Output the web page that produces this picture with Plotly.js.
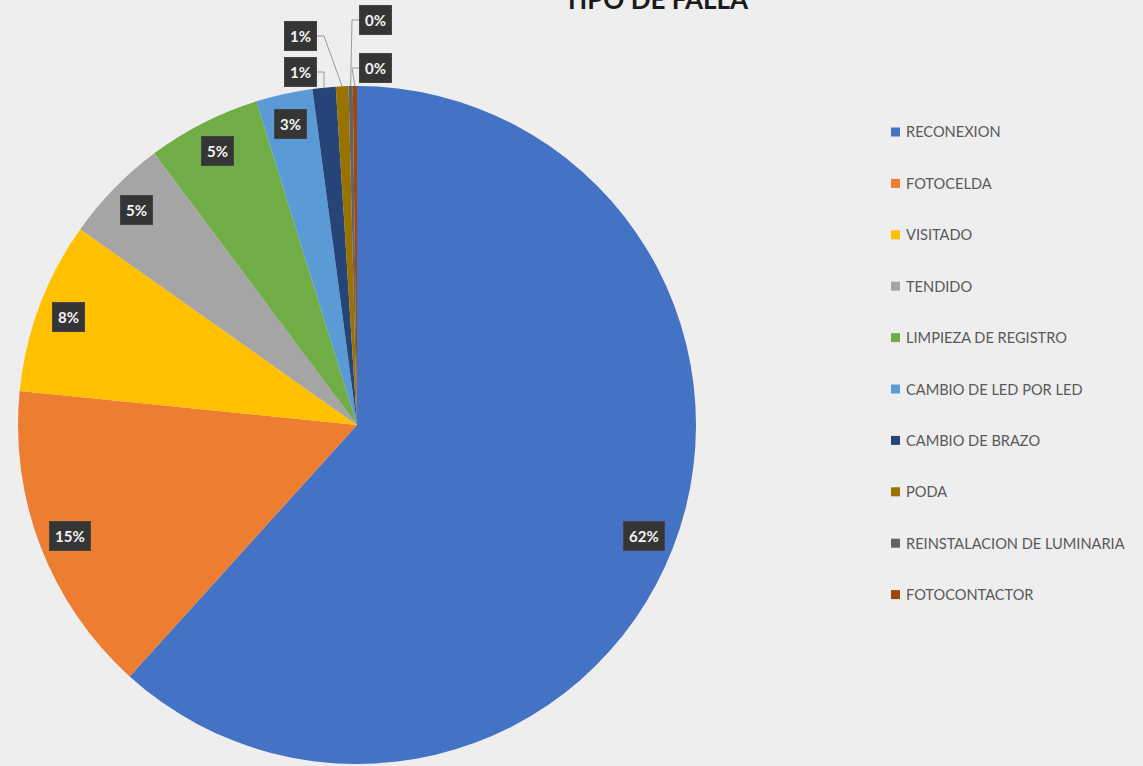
<!DOCTYPE html>
<html>
<head>
<meta charset="utf-8">
<script src="https://cdn.plot.ly/plotly-3.0.1.min.js"></script>
<style>html,body{margin:0;padding:0;background:#eeeeee;}#chart{width:1143px;height:766px;}</style>
</head>
<body>
<div id="chart"></div>
<script>
// ---- data ----
var categories = ["RECONEXION", "FOTOCELDA", "VISITADO", "TENDIDO", "LIMPIEZA DE REGISTRO",
  "CAMBIO DE LED POR LED", "CAMBIO DE BRAZO", "PODA", "REINSTALACION DE LUMINARIA", "FOTOCONTACTOR"];
var values = [61.7, 14.9, 8.2, 5.0, 5.4, 2.7, 1.1, 0.6, 0.2, 0.2];
var colors = ["#4472C4", "#ED7D31", "#FFC000", "#A5A5A5", "#70AD47",
  "#5B9BD5", "#264478", "#997300", "#636363", "#9E480E"];
var chartTitle = "TIPO DE FALLA";

// ---- layout constants (pixels) ----
var W = 1143, H = 766;
var cx = 357, cy = 425, R = 339;
var labelR = 308;
var smallLimit = 0.02;
var leftBoxRight = 317, rightBoxLeft = 359;
var leftLevels = [72, 36], rightLevels = [20, 68];
var legendX = 891, legendY0 = 132, legendStep = 51.4;

function px(x) { return x / W; }
function py(y) { return 1 - y / H; }

var total = values.reduce(function (a, b) { return a + b; }, 0);
var annotations = [], shapes = [];
var labelFont = {family: "Lato, 'Open Sans', sans-serif", size: 15, color: "#f4f4f4", weight: 700};
var boxStyle = {bgcolor: "#353535", bordercolor: "#454545", borderwidth: 1, borderpad: 5};

function boxLabel(x, y, txt, xanchor) {
  var a = {xref: "paper", yref: "paper", x: x, y: y, text: txt, showarrow: false,
    font: labelFont, xanchor: xanchor, yanchor: "middle"};
  for (var k in boxStyle) a[k] = boxStyle[k];
  return a;
}

var cum = 0, small = [];
values.forEach(function (v, i) {
  var f = v / total;
  var mid = cum + f / 2;
  cum += f;
  var txt = Math.round(f * 100) + "%";
  var ang = mid * 2 * Math.PI;
  if (f >= smallLimit) {
    annotations.push(boxLabel(px(cx + labelR * Math.sin(ang)), py(cy - labelR * Math.cos(ang)), txt, "center"));
  } else {
    small.push({i: i, txt: txt, ex: cx + R * Math.sin(ang), ey: cy - R * Math.cos(ang)});
  }
});

var half = Math.ceil(small.length / 2);
small.forEach(function (s, k) {
  var left = k < half;
  var ly = left ? leftLevels[k] : rightLevels[k - half];
  var boxX = left ? leftBoxRight : rightBoxLeft;
  var elbowX = left ? boxX + 7 : boxX - 7;
  annotations.push(boxLabel(px(boxX), py(ly), s.txt, left ? "right" : "left"));
  shapes.push({
    type: "path", xref: "paper", yref: "paper",
    path: "M " + px(s.ex) + "," + py(s.ey) + " L " + px(elbowX) + "," + py(ly) + " L " + px(boxX) + "," + py(ly),
    line: {color: "#9a9a9a", width: 1}
  });
});

// legend drawn from categories / colors
categories.forEach(function (c, i) {
  var y = legendY0 + i * legendStep;
  shapes.push({
    type: "rect", xref: "paper", yref: "paper",
    x0: px(legendX), x1: px(legendX + 9), y0: py(y - 4.5), y1: py(y + 4.5),
    fillcolor: colors[i], line: {width: 0}
  });
  annotations.push({
    xref: "paper", yref: "paper", x: px(legendX + 13), y: py(y),
    text: c, showarrow: false, xanchor: "left", yanchor: "middle",
    font: {family: "Lato, 'Open Sans', sans-serif", size: 14.6, color: "#595959"}
  });
});

var data = [{
  type: "pie",
  labels: categories,
  values: values,
  sort: false,
  direction: "clockwise",
  rotation: 0,
  marker: {colors: colors, line: {width: 0}},
  textinfo: "none",
  hoverinfo: "label+percent",
  showlegend: false,
  domain: {x: [px(cx - R), px(cx + R)], y: [py(cy + R), py(cy - R)]}
}];

var layout = {
  width: W, height: H,
  margin: {l: 0, r: 0, t: 0, b: 0},
  paper_bgcolor: "#eeeeee",
  plot_bgcolor: "#eeeeee",
  showlegend: false,
  title: {
    text: "<b>" + chartTitle + "</b>",
    x: 656 / W, xanchor: "center", xref: "paper",
    y: 1, yanchor: "middle", yref: "container",
    font: {family: "Lato, 'Open Sans', sans-serif", size: 26, color: "#1a1a1a"}
  },
  annotations: annotations,
  shapes: shapes
};

Plotly.newPlot("chart", data, layout, {displayModeBar: false, staticPlot: true});
</script>
</body>
</html>
